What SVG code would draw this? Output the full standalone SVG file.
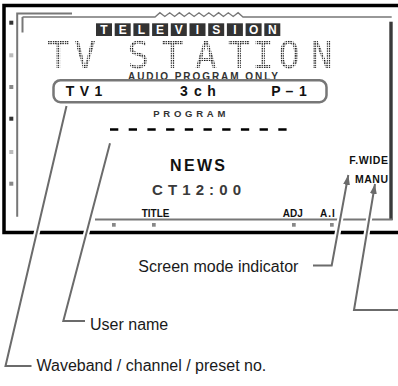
<svg xmlns="http://www.w3.org/2000/svg" width="398" height="386" viewBox="0 0 398 386">
<style>
.frame{fill:none;stroke:#000;stroke-width:3.5}
.gray{fill:none;stroke:#777;stroke-width:2}
.thin{fill:none;stroke:#777;stroke-width:1.3}
.osd{font-family:"Liberation Sans",Arial,sans-serif;font-weight:bold}
.lbl{font-family:"Liberation Sans",Arial,sans-serif;font-size:16px;fill:#1a1a1a}
.halo{fill:none;stroke:#fff;stroke-width:6}
.lead{fill:none;stroke:#6b6b6b;stroke-width:2}
.box{fill:#333}
.sq{fill:#888}
</style>
<defs>
<pattern id="dots" width="2.4" height="2.4" patternUnits="userSpaceOnUse"><rect width="1.4" height="1.4" fill="#fff"/></pattern>
<mask id="dotmask" maskUnits="userSpaceOnUse" x="0" y="30" width="398" height="50"><rect x="0" y="30" width="398" height="50" fill="url(#dots)"/></mask>
<marker id="arr" markerUnits="userSpaceOnUse" markerWidth="10" markerHeight="7" refX="10" refY="3.5" orient="auto"><path d="M0,0 L10,3.5 L0,7 z" fill="#6b6b6b"/></marker>
</defs>
<rect width="398" height="386" fill="#fff"/>
<g id="screen-frame">
<path class="frame" d="M398,5.5 H4 V232.5 H398"/>
<path class="gray" d="M72,13.5 H17.2 V216.7"/>
<path class="gray" d="M22.5,32.5 V17"/>
<path class="thin" d="M22.5,17 H155 L159.9,12.7 L164.8,16.5 L169.7,12.7 L174.6,16.5 L179.4,12.7 L184.3,16.5 L189.2,12.7 L194.1,16.5 L199,12.7 L203.9,16.5 L208.8,12.7 L213.7,16.5 L218.6,12.7 L223.4,16.5 L228.3,12.7 L233.2,16.5 L238.1,12.7 L243,17 H391.7"/>
<line x1="391" y1="21.7" x2="391" y2="220" stroke="#3a3a3a" stroke-width="3.4"/>
<line x1="95" y1="219.5" x2="392.7" y2="219.5" stroke="#777" stroke-width="1.8"/>
<rect x="9.3" y="20.7" width="4" height="4" fill="#333"/>
<rect x="9.3" y="53.3" width="4" height="4" fill="#bbb"/>
<rect x="9.3" y="85" width="4" height="4" fill="#888"/>
<rect x="9.3" y="116.7" width="4" height="4" fill="#333"/>
<rect x="9.3" y="150" width="4" height="4" fill="#bbb"/>
<rect x="9.3" y="181.7" width="4" height="4" fill="#888"/>
<rect class="sq" x="112" y="223" width="3.7" height="3.7"/>
<rect class="sq" x="152" y="223" width="3.7" height="3.7"/>
<rect class="sq" x="292" y="223" width="3.7" height="3.7"/>
<rect class="sq" x="330" y="223" width="3.7" height="3.7"/>
</g>
<g id="title-television">
<rect class="box" x="96" y="23.3" width="16" height="12.7"/>
<rect class="box" x="114.7" y="23.3" width="16" height="12.7"/>
<rect class="box" x="133.4" y="23.3" width="16" height="12.7"/>
<rect class="box" x="152.1" y="23.3" width="16" height="12.7"/>
<rect class="box" x="170.8" y="23.3" width="16" height="12.7"/>
<rect class="box" x="189.5" y="23.3" width="16" height="12.7"/>
<rect class="box" x="208.2" y="23.3" width="16" height="12.7"/>
<rect class="box" x="226.9" y="23.3" width="16" height="12.7"/>
<rect class="box" x="245.6" y="23.3" width="16" height="12.7"/>
<rect class="box" x="264.3" y="23.3" width="16" height="12.7"/>
<text class="osd" font-size="12" fill="#fff" text-anchor="middle" x="104 122.7 141.4 160.1 178.8 197.5 216.2 234.9 253.6 272.3" y="34.3">TELEVISION</text>
</g>
<g id="tv-station" mask="url(#dotmask)">
<text font-family="'DejaVu Sans Mono',monospace" font-size="36.6" fill="#000" text-anchor="middle" x="58.3 85 111 138.3 172.5 206 239 263 289 321.7" y="68.3">TV STATION</text>
</g>
<g id="audio-program-only">
<text class="osd" font-size="10" fill="#333" x="128" y="80.3" textLength="150" lengthAdjust="spacing">AUDIO PROGRAM ONLY</text>
</g>
<g id="info-box">
<rect x="53.5" y="80.2" width="273" height="22" rx="7" fill="#fff" stroke="#777" stroke-width="2.5"/>
<text class="osd" font-size="14" fill="#111" text-anchor="middle" x="70 84.5 98.5" y="96">TV1</text>
<text class="osd" font-size="14" fill="#111" text-anchor="middle" x="184 198 211.5" y="96">3ch</text>
<text class="osd" font-size="14" fill="#111" text-anchor="middle" x="276 289.5 303" y="96">P–1</text>
</g>
<g id="program">
<text class="osd" font-size="9.5" fill="#333" x="153.3" y="116.8" textLength="72" lengthAdjust="spacing">PROGRAM</text>
<line x1="110" y1="129.5" x2="286.7" y2="129.5" stroke="#000" stroke-width="2.3" stroke-dasharray="8.3 10.4"/>
</g>
<g id="news">
<text class="osd" font-size="16" fill="#111" x="170" y="171" textLength="55" lengthAdjust="spacing">NEWS</text>
</g>
<g id="clock">
<text class="osd" font-size="15" fill="#3a3a3a" x="152" y="195" textLength="89" lengthAdjust="spacing">CT12:00</text>
</g>
<g id="softkeys">
<text class="osd" font-size="10" fill="#111" x="141.7" y="217">TITLE</text>
<text class="osd" font-size="10" fill="#111" x="282.7" y="216.5">ADJ</text>
<text class="osd" font-size="10" fill="#111" x="320" y="216.5" letter-spacing="1">A.I</text>
</g>
<g id="f-wide">
<text class="osd" font-size="10.5" fill="#111" text-anchor="end" x="388.5" y="163.5" letter-spacing="0.6">F.WIDE</text>
</g>
<g id="manu">
<text class="osd" font-size="10.5" fill="#111" text-anchor="end" x="388.5" y="183" letter-spacing="0.5">MANU</text>
</g>
<g id="connectors">
<path class="halo" d="M31.5,366 H5.5 L66.5,106"/>
<path class="halo" d="M85,321 H63.3 L110,143.3"/>
<path class="halo" d="M313,265.5 H331.7 L347,182"/>
<path class="halo" d="M398,310 H354 L373.7,191"/>
<path class="lead" d="M31.5,366 H5.5 L66.5,106"/>
<path class="lead" d="M85,321 H63.3 L110,143.3"/>
<path class="lead" d="M313,265.5 H331.7 L348.3,175" marker-end="url(#arr)"/>
<path class="lead" d="M398,310 H354 L375,184" marker-end="url(#arr)"/>
</g>
<g id="label-screen-mode"><text class="lbl" x="138.3" y="272">Screen mode indicator</text></g>
<g id="label-user-name"><text class="lbl" x="90" y="330">User name</text></g>
<g id="label-waveband"><text class="lbl" x="36.5" y="371">Waveband / channel / preset no.</text></g>
</svg>
